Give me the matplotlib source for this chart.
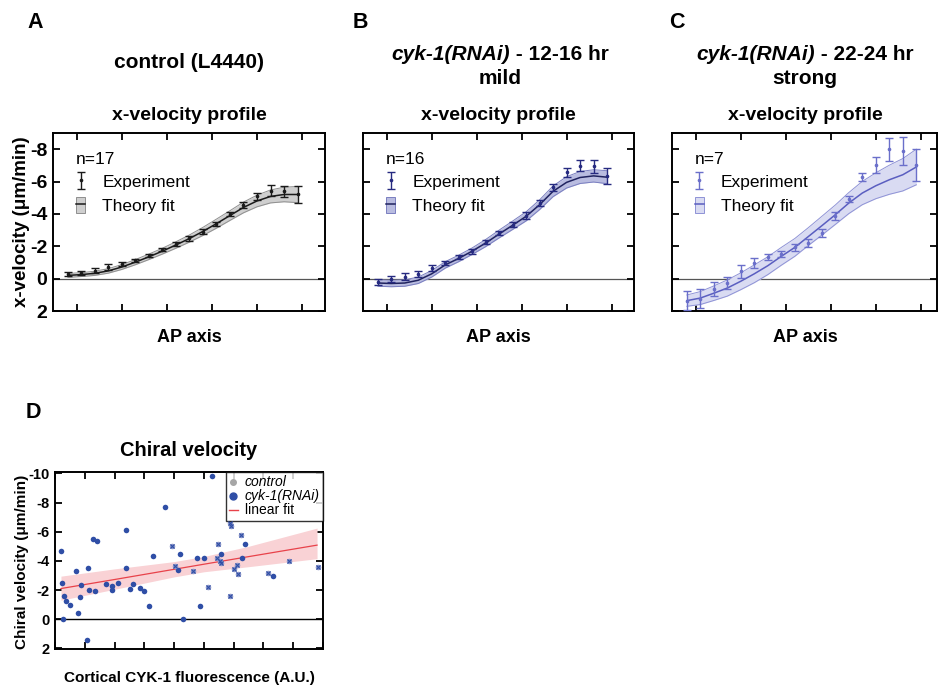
import matplotlib.pyplot as plt
from matplotlib.patches import Patch
from matplotlib.lines import Line2D

plt.rcParams['font.family'] = ['Liberation Sans', 'DejaVu Sans']
plt.rcParams['axes.unicode_minus'] = False

# AP positions of the 18 measurement bins (arbitrary units)
ap_pos = [-0.2, 0.1, 0.4, 0.7, 1.0, 1.3, 1.6, 1.9, 2.2, 2.5, 2.8, 3.1, 3.4, 3.7, 4.0, 4.3, 4.6, 4.9]

# Panel A - control (L4440)
a_exp = [-0.29, -0.35, -0.5, -0.7, -0.9, -1.13, -1.42, -1.8, -2.14, -2.5, -2.9, -3.4, -3.97, -4.57, -5.08, -5.43, -5.39, -5.2]
a_err = [0.1, 0.15, 0.15, 0.18, 0.12, 0.1, 0.1, 0.12, 0.1, 0.15, 0.15, 0.12, 0.12, 0.18, 0.2, 0.35, 0.35, 0.5]
a_fit = [-0.2, -0.25, -0.33, -0.48, -0.72, -1.02, -1.35, -1.7, -2.08, -2.48, -2.92, -3.4, -3.9, -4.4, -4.8, -5.08, -5.2, -5.2]
a_fit_err = [0.12, 0.12, 0.13, 0.14, 0.15, 0.16, 0.17, 0.18, 0.2, 0.22, 0.25, 0.28, 0.3, 0.33, 0.36, 0.4, 0.45, 0.5]

# Panel B - cyk-1(RNAi) 12-16 hr (mild)
b_exp = [0.2, 0.02, -0.12, -0.3, -0.65, -0.97, -1.32, -1.69, -2.26, -2.82, -3.33, -3.89, -4.67, -5.64, -6.56, -6.98, -6.93, -6.32]
b_err = [0.2, 0.2, 0.2, 0.2, 0.18, 0.15, 0.12, 0.15, 0.15, 0.15, 0.15, 0.2, 0.2, 0.2, 0.25, 0.35, 0.4, 0.5]
b_fit = [0.27, 0.3, 0.27, 0.1, -0.3, -0.85, -1.25, -1.7, -2.2, -2.76, -3.3, -3.85, -4.57, -5.4, -5.95, -6.25, -6.35, -6.27]
b_fit_err = [0.2, 0.2, 0.2, 0.2, 0.2, 0.2, 0.2, 0.2, 0.22, 0.24, 0.26, 0.28, 0.3, 0.33, 0.35, 0.37, 0.38, 0.4]

# Panel C - cyk-1(RNAi) 22-24 hr (strong)
c_exp = [1.36, 1.23, 0.64, 0.27, -0.45, -0.97, -1.34, -1.52, -1.93, -2.2, -2.82, -3.85, -4.94, -6.28, -7.04, -8.0, -7.9, -7.04]
c_err = [0.6, 0.6, 0.45, 0.35, 0.4, 0.3, 0.2, 0.2, 0.22, 0.25, 0.22, 0.25, 0.18, 0.25, 0.5, 0.7, 0.85, 1.0]
c_fit = [1.36, 1.2, 0.9, 0.58, 0.16, -0.3, -0.8, -1.38, -1.93, -2.6, -3.27, -3.95, -4.67, -5.29, -5.74, -6.11, -6.42, -6.9]
c_fit_err = [0.35, 0.4, 0.45, 0.5, 0.52, 0.55, 0.55, 0.55, 0.55, 0.55, 0.58, 0.6, 0.65, 0.72, 0.8, 0.9, 1.0, 1.1]

# Panel D - chiral velocity vs cortical CYK-1
rnai_x = [0.2, 0.22, 0.3, 0.28, 0.37, 0.5, 0.72, 0.76, 0.83, 0.86, 1.08, 1.11, 1.14, 1.26, 1.34, 1.42, 1.7, 1.9, 1.92, 2.1,
          2.4, 2.39, 2.52, 2.61, 2.87, 3.0, 3.17, 3.29, 3.71, 4.12, 4.2, 4.31, 4.78, 4.87, 5.0, 5.28, 5.56, 6.28, 6.37, 7.32]
rnai_y = [-4.69, -2.45, -1.6, 0.0, -1.26, -0.94, -3.3, -0.41, -1.53, -2.36, 1.44, -3.5, -1.99, -5.47, -1.9, -5.35, -2.4, -1.99, -2.27, -2.45,
          -6.13, -3.52, -2.06, -2.4, -2.15, -1.92, -0.92, -4.32, -7.71, -3.36, -4.44, 0.0, -4.21, -0.87, -4.23, -9.82, -4.44, -4.23, -5.13, -2.95]
ctrl_x = [3.92, 4.02, 4.65, 5.14, 5.48, 5.45, 5.53, 5.58, 5.88, 5.9, 5.88, 6.02, 6.1, 6.13, 6.23, 7.14, 7.85, 8.84]
ctrl_y = [-5.03, -3.64, -3.3, -2.22, -5.13, -4.17, -4.0, -3.85, -6.6, -6.4, -1.6, -3.41, -3.75, -3.09, -5.77, -3.16, -4.0, -3.59]
fit_x = [0.2, 2.0, 4.0, 5.0, 6.5, 8.8]
fit_y = [-2.1, -2.72, -3.42, -3.77, -4.29, -5.08]
fit_lo = [-1.3, -2.05, -2.9, -3.25, -3.6, -4.15]
fit_hi = [-2.95, -3.45, -3.95, -4.3, -5.0, -6.25]

W, H = 938, 691
fig = plt.figure(figsize=(W / 100, H / 100), dpi=100)


def px_axes(left, top, right, bottom):
    return fig.add_axes([left / W, 1 - bottom / H, (right - left) / W, (bottom - top) / H])


def ftext(x, y, s, **kw):
    return fig.text(x / W, 1 - y / H, s, ha='center', va='center', **kw)


def style_box(ax, size):
    for sp in ax.spines.values():
        sp.set_linewidth(1.4)
    ax.tick_params(direction='in', top=True, right=True, length=5, width=1.3,
                   labelsize=size, pad=4)
    for lab in ax.get_yticklabels():
        lab.set_fontweight('bold')


def profile(ax, exp, err, fit, fit_err, line_c, band_c, edge_c, err_c, n, xmax):
    lo = [f - e for f, e in zip(fit, fit_err)]
    hi = [f + e for f, e in zip(fit, fit_err)]
    ax.axhline(0, color='#555555', lw=0.9, zorder=1)
    ax.fill_between(ap_pos, lo, hi, color=band_c, lw=0, zorder=2)
    ax.plot(ap_pos, lo, color=edge_c, lw=0.7, zorder=3)
    ax.plot(ap_pos, hi, color=edge_c, lw=0.7, zorder=3)
    ax.plot(ap_pos, fit, color=line_c, lw=1.1, zorder=4)
    eb = ax.errorbar(ap_pos, exp, yerr=err, fmt='o', ms=1.6, color=err_c,
                     elinewidth=1.0, capsize=3, capthick=1.0, zorder=5)
    ax.set_xlim(-0.53, xmax)
    ax.set_ylim(2, -9)
    ax.set_yticks([-8, -6, -4, -2, 0, 2])
    ax.set_xticks([0, 1, 2, 3, 4, 5])
    ax.set_xticklabels([])
    style_box(ax, 14)
    band_handle = (Patch(facecolor=band_c, edgecolor=edge_c, lw=0.7),
                   Line2D([], [], color=line_c, lw=1.1))
    ax.legend([eb, band_handle], ['Experiment', 'Theory fit'], loc='upper left',
              bbox_to_anchor=(0.06, 0.935), frameon=False, fontsize=12.5,
              handlelength=0.5, handleheight=1.0, handletextpad=1.0,
              labelspacing=0.4, borderaxespad=0,
              title=f'n={n}', title_fontsize=12.5, alignment='left')


ax_a = px_axes(53, 133, 325, 311)
profile(ax_a, a_exp, a_err, a_fit, a_fit_err, '#1a1a1a', '#cfcfcf', '#8f8f8f', '#1a1a1a', 17, 5.51)
ax_b = px_axes(363, 133, 634, 311)
profile(ax_b, b_exp, b_err, b_fit, b_fit_err, '#20235f', '#b9bce0', '#7a7fc0', '#262a80', 16, 5.5)
ax_c = px_axes(672, 133, 937, 311)
profile(ax_c, c_exp, c_err, c_fit, c_fit_err, '#5a5ec0', '#d9dbf2', '#8f93d6', '#6a6fca', 7, 5.36)
ax_b.set_yticklabels([])
ax_c.set_yticklabels([])

# Panel D
ax_d = px_axes(55, 472, 323, 649)
ax_d.axhline(0, color='black', lw=1.0, zorder=1)
ax_d.fill_between(fit_x, fit_lo, fit_hi, color='#f9d2d5', lw=0, zorder=2)
ax_d.plot(fit_x, fit_y, color='#e8424a', lw=0.9, zorder=3)
ax_d.scatter(rnai_x, rnai_y, s=16, color='#2f4ea6', lw=0, zorder=4)
ax_d.scatter(ctrl_x, ctrl_y, s=16, color='#8e98c9', lw=0, zorder=5)
ax_d.scatter(ctrl_x, ctrl_y, s=9, marker='x', color='#2f4ea6', lw=0.8, zorder=6)
ax_d.set_xlim(0, 9)
ax_d.set_ylim(2.05, -10.1)
ax_d.set_xticks(range(10))
ax_d.set_xticklabels([])
ax_d.set_yticks([-10, -8, -6, -4, -2, 0, 2])
style_box(ax_d, 10.5)
handles = [Line2D([], [], marker='o', ls='none', ms=4, color='#a6a6a6'),
           Line2D([], [], marker='o', ls='none', ms=5, color='#2f4ea6'),
           Line2D([], [], color='#e8424a', lw=1.0)]
leg = ax_d.legend(handles, ['control', 'cyk-1(RNAi)', 'linear fit'], loc='upper right',
                  fontsize=10, handlelength=0.6, handletextpad=0.5, labelspacing=0.0,
                  borderaxespad=0, borderpad=0.25, fancybox=False, edgecolor='black')
leg.get_frame().set_linewidth(1.0)
leg.get_texts()[0].set_fontstyle('italic')
leg.get_texts()[1].set_fontstyle('italic')

# Panel letters and titles
for lab, x, y in [('A', 35, 22), ('B', 360, 22), ('C', 677, 22), ('D', 33, 413)]:
    ftext(x, y, lab, fontsize=15.5, fontweight='bold')

ftext(189, 63, 'control (L4440)', fontsize=15, fontweight='bold')

renderer = fig.canvas.get_renderer()
for cx, tail, sub in [(500, ' - 12-16 hr', 'mild'), (805, ' - 22-24 hr', 'strong')]:
    t1 = fig.text(0, 1 - 55 / H, 'cyk-1(RNAi)', fontsize=15, fontweight='bold',
                  fontstyle='italic', ha='left', va='center')
    t2 = fig.text(0, 1 - 55 / H, tail, fontsize=15, fontweight='bold',
                  ha='left', va='center')
    w1 = t1.get_window_extent(renderer).width
    w2 = t2.get_window_extent(renderer).width
    x0 = cx - (w1 + w2) / 2
    t1.set_x(x0 / W)
    t2.set_x((x0 + w1) / W)
    ftext(cx, 78, sub, fontsize=15, fontweight='bold')

for cx in (189, 498, 805):
    ftext(cx, 115, 'x-velocity profile', fontsize=14, fontweight='bold')
    ftext(cx, 338, 'AP axis', fontsize=13, fontweight='bold')
ftext(22, 222, 'x-velocity (μm/min)', fontsize=13.5, fontweight='bold', rotation=90)

ftext(189, 450, 'Chiral velocity', fontsize=14.5, fontweight='bold')
ftext(22, 562, 'Chiral velocity (μm/min)', fontsize=11, fontweight='bold', rotation=90)
ftext(189, 678, 'Cortical CYK-1 fluorescence (A.U.)', fontsize=11, fontweight='bold')

fig.savefig('out.png', dpi=100)
